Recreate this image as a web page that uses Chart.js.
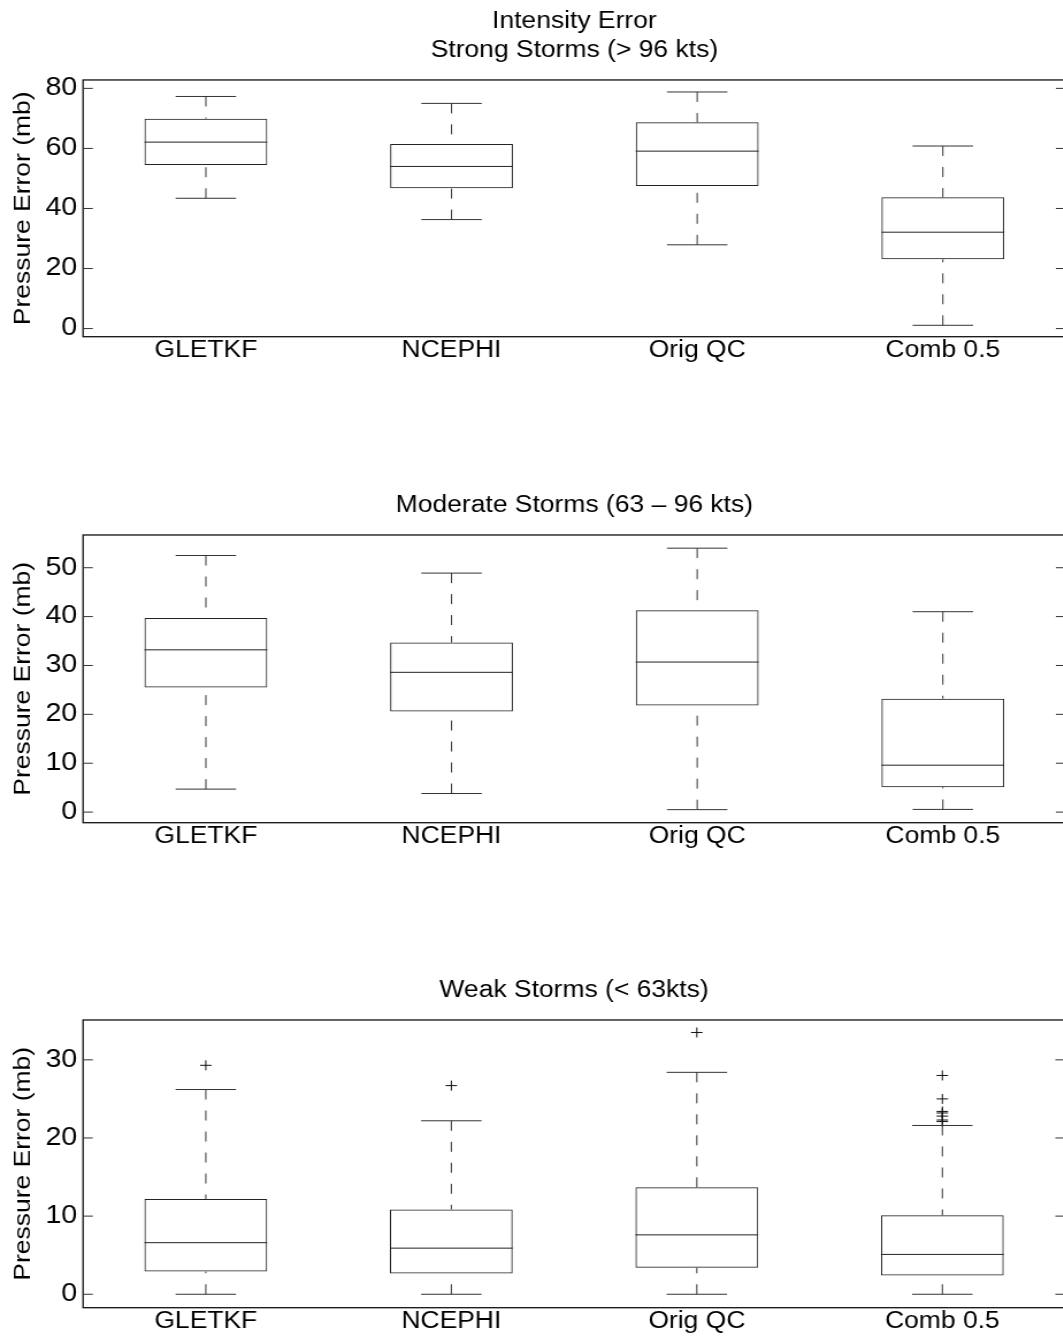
<!DOCTYPE html>
<html>
<head>
<meta charset="utf-8">
<title>Intensity Error</title>
<script src="https://cdn.jsdelivr.net/npm/chart.js@4.4.1/dist/chart.umd.min.js"></script>
<style>
  html, body { margin: 0; padding: 0; background: #fff; overflow: hidden; }
  #wrap { position: relative; width: 1063px; height: 1336px; overflow: hidden; }
  #wrap canvas { position: absolute; left: 0; width: 1072px; }
</style>
</head>
<body>
<div id="wrap">
  <canvas id="strong" width="932" height="370" style="top:0px;height:370px"></canvas>
  <canvas id="moderate" width="932" height="401" style="top:455px;height:401px"></canvas>
  <canvas id="weak" width="932" height="401" style="top:940px;height:401px"></canvas>
</div>
<script>
const categories = ['GLETKF', 'NCEPHI', 'Orig QC', 'Comb 0.5'];

// Strong storms (> 96 kts)
const strongLow = [43.4, 36.3, 27.9, 1.1];
const strongQ1 = [54.5, 46.7, 47.5, 23.1];
const strongMedian = [62.1, 54.0, 59.1, 32.1];
const strongQ3 = [69.9, 61.5, 68.7, 43.7];
const strongHigh = [77.3, 75.0, 78.8, 60.8];
const strongTicks = [0, 20, 40, 60, 80];
const strongRange = [-2.7, 82.8];

// Moderate storms (63 - 96 kts)
const moderateLow = [4.7, 3.8, 0.5, 0.55];
const moderateQ1 = [25.5, 20.6, 21.8, 5.1];
const moderateMedian = [33.2, 28.6, 30.7, 9.6];
const moderateQ3 = [39.7, 34.7, 41.3, 23.2];
const moderateHigh = [52.5, 48.9, 54.0, 41.0];
const moderateTicks = [0, 10, 20, 30, 40, 50];
const moderateRange = [-2.17, 56.7];

// Weak storms (< 63 kts)
const weakLow = [0, 0, 0, 0];
const weakQ1 = [2.9, 2.65, 3.4, 2.4];
const weakMedian = [6.6, 5.9, 7.6, 5.1];
const weakQ3 = [12.2, 10.85, 13.7, 10.1];
const weakHigh = [26.2, 22.2, 28.4, 21.6];
const weakOutliers = [[29.3], [26.7], [33.5], [28.0, 25.0, 23.4, 23.2, 22.8, 22.3, 22.1]];
const weakTicks = [0, 10, 20, 30];
const weakRange = [-1.72, 35.1];

const yTitle = 'Pressure Error (mb)';
const FONT = "'Liberation Sans', Arial, Helvetica, sans-serif";
// canvases are drawn narrow and widened by css
const STRETCH = 1072 / 932;

Chart.defaults.font.family = FONT;
Chart.defaults.font.size = 23;
Chart.defaults.color = '#000';

// medians, dashed whiskers, caps, frame, inward ticks and the y title
const boxWhiskers = {
  id: 'boxWhiskers',
  afterDatasetsDraw(chart, args, opts) {
    const { ctx, chartArea: a, scales: { x, y } } = chart;
    const st = opts.stats;
    const catW = a.width / categories.length;
    const line = (x1, y1, x2, y2) => {
      ctx.beginPath();
      ctx.moveTo(x1, y1);
      ctx.lineTo(x2, y2);
      ctx.stroke();
    };
    ctx.save();
    ctx.lineWidth = 1;
    st.median.forEach((m, i) => {
      const cx = x.getPixelForValue(i);
      ctx.strokeStyle = '#222';
      ctx.setLineDash([]);
      line(cx - catW * 0.25, y.getPixelForValue(m), cx + catW * 0.25, y.getPixelForValue(m));
      ctx.strokeStyle = '#333';
      line(cx - catW * 0.123, y.getPixelForValue(st.high[i]), cx + catW * 0.123, y.getPixelForValue(st.high[i]));
      line(cx - catW * 0.123, y.getPixelForValue(st.low[i]), cx + catW * 0.123, y.getPixelForValue(st.low[i]));
      ctx.setLineDash([10, 11]);
      line(cx, y.getPixelForValue(st.high[i]), cx, y.getPixelForValue(st.q3[i]));
      line(cx, y.getPixelForValue(st.low[i]), cx, y.getPixelForValue(st.q1[i]));
    });
    ctx.setLineDash([]);
    ctx.strokeStyle = '#111';
    ctx.lineWidth = 1.3;
    ctx.strokeRect(a.left, a.top, a.width, a.height);
    ctx.lineWidth = 1;
    ctx.strokeStyle = '#333';
    y.ticks.forEach(t => {
      const py = y.getPixelForValue(t.value);
      line(a.left, py, a.left + 8.5, py);
      line(a.right - 8.5, py, a.right, py);
    });

    // rotated axis title, kept the same shape as the horizontal text
    ctx.translate(20, (a.top + a.bottom) / 2);
    ctx.rotate(-Math.PI / 2);
    ctx.scale(STRETCH, 1 / STRETCH);
    ctx.font = '23px ' + FONT;
    ctx.fillStyle = '#000';
    ctx.textAlign = 'center';
    ctx.textBaseline = 'middle';
    ctx.fillText(yTitle, 0, 0);
    ctx.restore();
  }
};

function makePanel(id, title, stats, ticks, range, outliers) {
  const datasets = [{
    type: 'bar',
    data: stats.q1.map((v, i) => [v, stats.q3[i]]),
    backgroundColor: 'rgba(0,0,0,0)',
    borderColor: '#222',
    borderWidth: 1,
    borderSkipped: false,
    barPercentage: 0.5,
    categoryPercentage: 1.0
  }];
  if (outliers) {
    datasets.push({
      type: 'line',
      showLine: false,
      data: outliers.flatMap((vals, i) => vals.map(v => ({ x: categories[i], y: v }))),
      pointStyle: 'cross',
      pointRadius: 5,
      pointHoverRadius: 5,
      borderColor: '#111',
      borderWidth: 1
    });
  }
  const twoLines = Array.isArray(title);
  return new Chart(document.getElementById(id), {
    type: 'bar',
    data: { labels: categories, datasets },
    options: {
      responsive: false,
      devicePixelRatio: 1,
      animation: false,
      events: [],
      layout: { padding: { left: 0, right: 5.5, top: 0, bottom: 5.7 } },
      plugins: {
        legend: { display: false },
        tooltip: { enabled: false },
        title: {
          display: true,
          fullSize: false,
          text: title,
          color: '#000',
          font: { size: 23, weight: 'normal', lineHeight: 1.26 },
          padding: { top: twoLines ? 7.5 : 36.5, bottom: 14.5 }
        },
        boxWhiskers: { stats }
      },
      scales: {
        x: {
          type: 'category',
          offset: true,
          grid: { display: false, drawTicks: false },
          border: { display: false },
          ticks: { padding: 0, autoSkip: false, maxRotation: 0, color: '#000' }
        },
        y: {
          type: 'linear',
          min: range[0],
          max: range[1],
          bounds: 'data',
          afterBuildTicks: scale => { scale.ticks = ticks.map(v => ({ value: v })); },
          afterFit: scale => { scale.width = 72.2; },
          grid: { display: false, drawTicks: false },
          border: { display: false },
          ticks: { padding: 5, color: '#000', font: { size: 25 } }
        }
      }
    },
    plugins: [boxWhiskers]
  });
}

makePanel('strong', ['Intensity Error', 'Strong Storms (> 96 kts)'],
  { low: strongLow, q1: strongQ1, median: strongMedian, q3: strongQ3, high: strongHigh },
  strongTicks, strongRange);
makePanel('moderate', 'Moderate Storms (63 \u2013 96 kts)',
  { low: moderateLow, q1: moderateQ1, median: moderateMedian, q3: moderateQ3, high: moderateHigh },
  moderateTicks, moderateRange);
makePanel('weak', 'Weak Storms (< 63kts)',
  { low: weakLow, q1: weakQ1, median: weakMedian, q3: weakQ3, high: weakHigh },
  weakTicks, weakRange, weakOutliers);
</script>
</body>
</html>
